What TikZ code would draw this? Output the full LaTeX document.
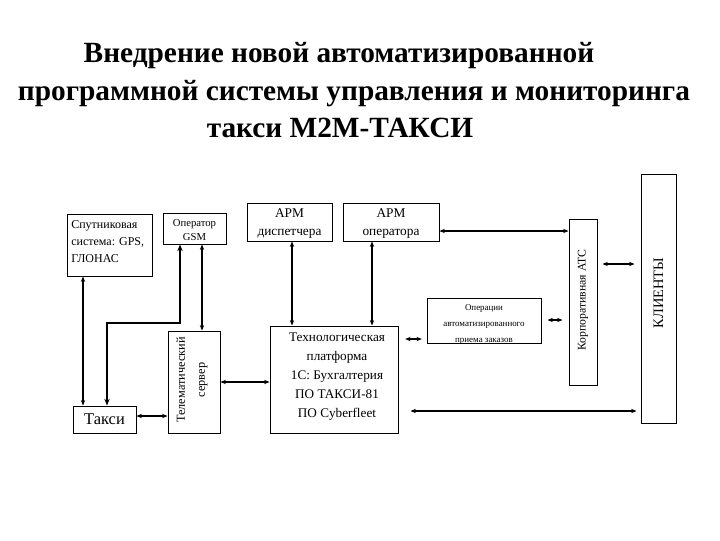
\documentclass[tikz,border=0pt]{standalone}
\usepackage{fontspec}
\setmainfont{Liberation Serif}
\usetikzlibrary{arrows.meta}
\begin{document}
\begin{tikzpicture}[x=0.75pt,y=-0.75pt,
  box/.style={draw, line width=0.75pt, inner sep=0pt},
  lbl/.style={inner sep=0pt, align=center},
  ttl/.style={inner sep=0pt, anchor=base, font=\fontsize{22}{26}\selectfont\bfseries},
  ah/.tip={Stealth[length=4pt,width=3.2pt]},
  conn/.style={line width=0.8pt, ah-ah},
  thickconn/.style={line width=1.8pt, {Stealth[length=5pt,width=4pt]}-{Stealth[length=5pt,width=4pt]}}]
\useasboundingbox (0,0) rectangle (720,540);
\fill[white] (0,0) rectangle (720,540);

% title
\node[ttl] (t1) at (339,62) {Внедрение новой автоматизированной};
\node[ttl] (t2) at (354,100) {программной системы управления и мониторинга};
\node[ttl] (t3) at (340,137) {такси M2M-ТАКСИ};

% boxes
\node[box, minimum width=63.75pt, minimum height=46.5pt] (sat) at (109.5,245) {};
\node[lbl, anchor=west, align=left, font=\fontsize{9}{12.75}\selectfont] (satl) at (71,242) {Спутниковая\\система: GPS,\\ ГЛОНАС};

\node[box, minimum width=47.25pt, minimum height=23.25pt] (gsm) at (194.5,228.5) {};
\node[lbl, font=\fontsize{8}{10.5}\selectfont] (gsml) at (194.5,230) {Оператор\\GSM};

\node[box, minimum width=47.25pt, minimum height=20.25pt] (taxi) at (104.5,419.5) {};
\node[lbl, font=\fontsize{12.3}{14}\selectfont] (taxil) at (104.5,419.5) {Такси};

\node[box, minimum width=39pt, minimum height=76.5pt] (srv) at (194,382) {};
\node[lbl, rotate=90, font=\fontsize{9.2}{15}\selectfont] (srvl) at (192,380) {Телематический\\сервер};

\node[box, minimum width=63.75pt, minimum height=28.5pt] (disp) at (289.5,222) {};
\node[lbl, font=\fontsize{10}{13.5}\selectfont] (displ) at (289.5,224) {АРМ\\диспетчера};

\node[box, minimum width=72pt, minimum height=28.5pt] (oper) at (391,222) {};
\node[lbl, font=\fontsize{10}{13.5}\selectfont] (operl) at (391,224) {АРМ\\оператора};

\node[box, minimum width=96pt, minimum height=80.25pt] (plat) at (334,379.5) {};
\node[lbl, font=\fontsize{9.9}{14.25}\selectfont] (platl) at (337,377) {Технологическая\\платформа\\1С: Бухгалтерия\\ПО ТАКСИ-81\\ПО Cyberfleet};

\node[box, minimum width=85.5pt, minimum height=33.75pt] (ops) at (484,320.5) {};
\node[lbl, font=\fontsize{6.7}{12}\selectfont] (opsl) at (484,324) {Операции\\автоматизированного\\приема заказов};

\node[box, minimum width=21pt, minimum height=124.5pt] (ats) at (583,302) {};
\node[lbl, rotate=90, font=\fontsize{8.8}{10}\selectfont] (atsl) at (583,300) {Корпоративная АТС};

\node[box, minimum width=26.25pt, minimum height=186.75pt] (cli) at (658.5,298.5) {};
\node[lbl, rotate=90, font=\fontsize{10.8}{12}\selectfont] (clil) at (658.5,293) {КЛИЕНТЫ};

% connectors
\draw[conn] (83,0 |- sat.south) -- (83,0 |- taxi.north);
\coordinate (b1) at (180,323);
\coordinate (b2) at (107,323);
\draw[thickconn] (b1 |- gsm.south) -- (b1) -- (b2) -- (b2 |- taxi.north);
\draw[conn] (202,0 |- gsm.south) -- (202,0 |- srv.north);
\draw[conn] (taxi.east |- 0,416) -- (srv.west |- 0,416);
\draw[conn] (srv.east |- 0,382) -- (plat.west |- 0,382);
\draw[conn] (292,0 |- disp.south) -- (292,0 |- plat.north);
\draw[conn] (372,0 |- oper.south) -- (372,0 |- plat.north);
\draw[conn] (oper.east |- 0,231) -- (ats.west |- 0,231);
\draw[conn, shorten <=5pt, shorten >=3.5pt] (plat.east |- 0,339) -- (ops.west |- 0,339);
\draw[conn, shorten <=4.5pt, shorten >=4.5pt] (ops.east |- 0,320) -- (ats.west |- 0,320);
\draw[conn, shorten <=3.8pt, shorten >=4.5pt] (ats.east |- 0,264) -- (cli.west |- 0,264);
\draw[conn, shorten <=9pt, shorten >=3pt] (plat.east |- 0,411) -- (cli.west |- 0,411);
\end{tikzpicture}
\end{document}
